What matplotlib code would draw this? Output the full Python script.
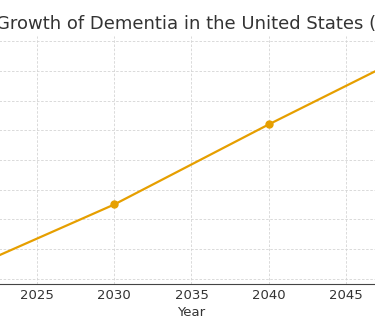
import matplotlib
matplotlib.use("Agg")
import matplotlib.pyplot as plt

# Projected number of Americans living with dementia (millions)
years = [2020, 2030, 2040, 2050]
cases_millions = [6.2, 8.5, 11.2, 13.8]
x_ticks = [2020, 2025, 2030, 2035, 2040, 2045, 2050]
y_ticks = [6, 7, 8, 9, 10, 11, 12, 13, 14]

title = "Projected Growth of Dementia in the United States (2020-2050)"

W, H = 375, 323
fig = plt.figure(figsize=(W / 100, H / 100), dpi=100)
fig.patch.set_facecolor("white")

# axes wider than the canvas
left_px, right_px = -63.5, 446.5
top_px, bottom_px = 36, 284
ax_w = right_px - left_px
ax = fig.add_axes([left_px / W, (H - bottom_px) / H,
                   ax_w / W, (bottom_px - top_px) / H])

ax.plot(years, cases_millions, color="#E69F00", linewidth=1.6,
        marker="o", markersize=5)

ax.set_xlim(2018.5, 2051.5)
ax.set_ylim(5.82, 14.18)
ax.set_xticks(x_ticks)
ax.set_yticks(y_ticks)

ax.grid(True, linestyle=(0, (3, 2)), color="#d4d4d4", linewidth=0.6)
ax.set_axisbelow(True)
for side in ("top", "right"):
    ax.spines[side].set_visible(False)
ax.spines["bottom"].set_color("#444444")
ax.spines["left"].set_color("#444444")
ax.tick_params(colors="#333333", labelsize=9.5, length=0, pad=3.5)

ax.set_xlabel("Year", fontsize=9.5, color="#333333", labelpad=3)
ax.set_ylabel("Cases (Millions)", fontsize=9.5, color="#333333")
ax.set_title(title, fontsize=13, color="#333333", pad=5,
             x=0.5 + 2 / ax_w)

fig.savefig("out.png", dpi=100)
